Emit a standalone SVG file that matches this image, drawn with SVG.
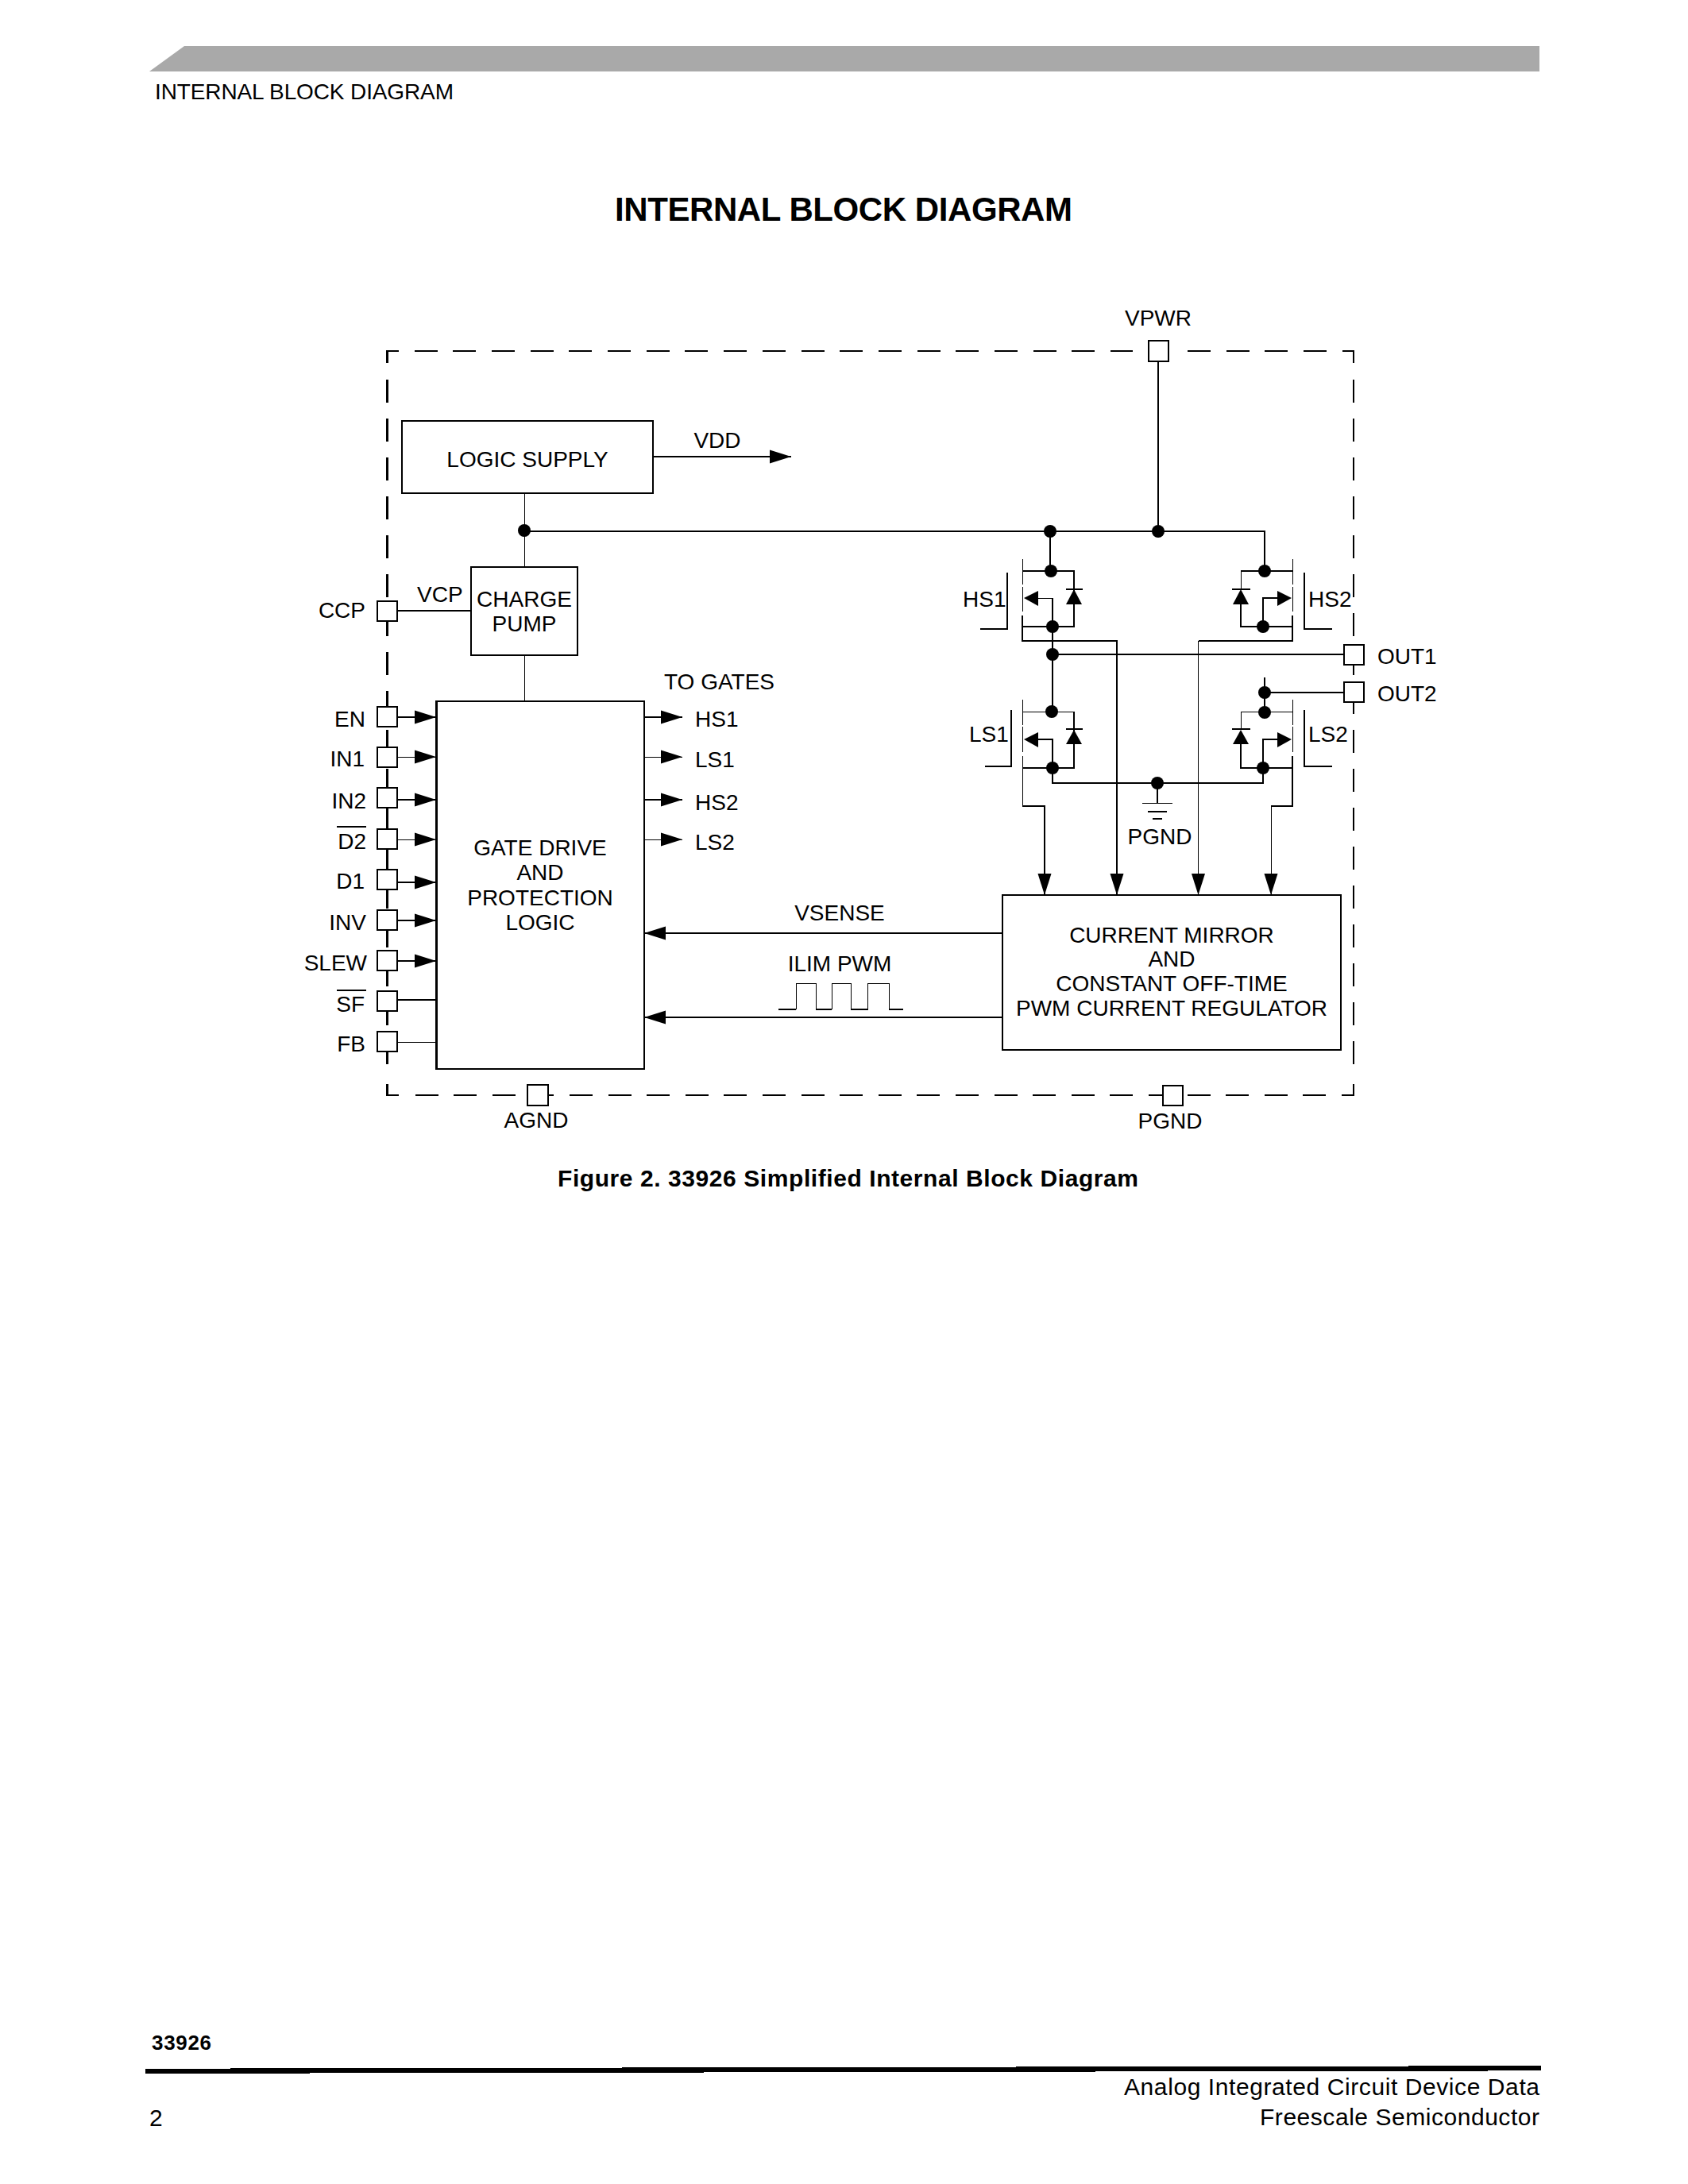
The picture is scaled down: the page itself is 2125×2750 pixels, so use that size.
<svg xmlns="http://www.w3.org/2000/svg" width="2125" height="2750" viewBox="0 0 2125 2750">
<style>
text{font-family:"Liberation Sans",Arial,sans-serif;font-size:28px;fill:#000}
.m{text-anchor:middle}.e{text-anchor:end}
.b{font-weight:bold}
line,path.l,rect{shape-rendering:crispEdges}
.k{stroke:#000;stroke-width:2;fill:none}
.t{stroke:#000;stroke-width:1;fill:none}
.box{fill:#fff;stroke:#000;stroke-width:2}
.d{stroke:#000;stroke-width:2;fill:none;stroke-dasharray:29 19.7}
.dot{fill:#000}
.f{fill:#000;stroke:none}
.a{marker-end:url(#arrow)}
</style>
<defs>
<marker id="arrow" markerUnits="userSpaceOnUse" markerWidth="27" markerHeight="18" viewBox="0 0 27 18" refX="27" refY="9" orient="auto"><path d="M0 0.500L27 9L0 17.500Z" fill="#000"/></marker>
</defs>
<g id="page-header">
<polygon points="232,58 1938,58 1938,90 188,90" fill="#a9a9a9"/>
<text x="195" y="125" textLength="376">INTERNAL BLOCK DIAGRAM</text>
</g>
<text id="title" class="b" x="774" y="278" textLength="576" style="font-size:42px">INTERNAL BLOCK DIAGRAM</text>
<g id="boundary">
<path class="k l" d="M502 441.500H487.500"/>
<path class="l" d="M487.500 441V457" stroke="#000" stroke-width="3"/>
<path class="d l" d="M521.500 441.500H1426"/>
<path class="d l" d="M1495 441.500H1680"/>
<path class="k l" d="M1690 441.500H1704V457"/>
<path class="d l" d="M487.500 478V1344" style="stroke-dasharray:29 20;stroke-width:3"/>
<path class="d l" d="M1704 478V1344" style="stroke-dasharray:29 20"/>
<path class="l" d="M487.500 1365V1380" stroke="#000" stroke-width="3"/>
<path class="k l" d="M487.500 1379H502"/>
<path class="d l" d="M522.500 1379H1670" style="stroke-dasharray:29 19.6"/>
<path class="k l" d="M1689 1379H1704V1365"/>
</g>
<g id="connectors">
<line class="t" x1="660" y1="621" x2="660" y2="714"/>
<line class="k a" x1="822" y1="575" x2="996" y2="575"/>
<path class="k l" d="M660 669H1592V719"/>
<line class="k" x1="1458" y1="455" x2="1458" y2="669"/>
<line class="k" x1="1322" y1="669" x2="1322" y2="719"/>
<line class="k" x1="500" y1="769" x2="593" y2="769"/>
<line class="t" x1="660" y1="825" x2="660" y2="883"/>
<line class="k a" x1="500" y1="903" x2="549" y2="903"/>
<line class="t a" x1="500" y1="953" x2="549" y2="953"/>
<line class="k a" x1="500" y1="1007" x2="549" y2="1007"/>
<line class="t a" x1="500" y1="1057" x2="549" y2="1057"/>
<line class="k a" x1="500" y1="1111" x2="549" y2="1111"/>
<line class="k a" x1="500" y1="1159" x2="549" y2="1159"/>
<line class="k a" x1="500" y1="1210" x2="549" y2="1210"/>
<line class="k" x1="500" y1="1259" x2="549" y2="1259"/>
<line class="t" x1="500" y1="1312" x2="549" y2="1312"/>
<line class="k a" x1="811" y1="903" x2="859" y2="903"/>
<line class="t a" x1="811" y1="953" x2="859" y2="953"/>
<line class="k a" x1="811" y1="1007" x2="859" y2="1007"/>
<line class="t a" x1="811" y1="1057" x2="859" y2="1057"/>
<line class="k a" x1="1261" y1="1175" x2="811" y2="1175"/>
<line class="k a" x1="1261" y1="1281" x2="811" y2="1281"/>
<path class="k l" d="M980 1271H1002M1027 1271H1047M1071 1271H1092.500M1119 1271H1137"/>
<path class="t l" d="M1002 1271V1238H1027V1271M1047 1271V1238H1071V1271M1092.500 1271V1238H1119V1271"/>
<line class="k" x1="1325" y1="789" x2="1325" y2="896"/>
<line class="k" x1="1325" y1="824" x2="1691" y2="824"/>
<path class="k l" d="M1287 775V807H1406V1127" style="marker-end:url(#arrow)"/>
<path class="t l" d="M1627 807H1508.500V1127" style="marker-end:url(#arrow)"/>
<path class="k l" d="M1627 775V807H1509"/>
<line class="k" x1="1592" y1="872" x2="1691" y2="872"/>
<line class="k" x1="1592" y1="853" x2="1592" y2="897"/>
<path class="k l" d="M1325 967V986H1590V967"/>
<path class="t l" d="M1287 952V1015"/>
<path class="k l" d="M1287 1015H1315V1127" style="marker-end:url(#arrow)"/>
<path class="k l" d="M1627 952V1015H1600"/>
<path class="t l" d="M1600 1015V1127" style="marker-end:url(#arrow)"/>
<line class="k" x1="1457" y1="986" x2="1457" y2="1011"/>
<circle class="dot" cx="660" cy="668" r="8"/>
<circle class="dot" cx="1322" cy="669" r="8"/>
<circle class="dot" cx="1458" cy="669" r="8"/>
<circle class="dot" cx="1325" cy="824" r="8"/>
<circle class="dot" cx="1592" cy="872" r="8"/>
<circle class="dot" cx="1457" cy="986" r="8"/>
</g>
<g id="logic-supply"><rect class="box" x="506" y="530" width="316" height="91"/><text class="m" x="664" y="588">LOGIC SUPPLY</text></g>
<text id="label-vdd" class="m" x="903" y="564">VDD</text>
<g id="charge-pump"><rect class="box" x="593" y="714" width="134" height="111"/><text class="m" x="660" y="764">CHARGE</text><text class="m" x="660" y="795">PUMP</text></g>
<text id="label-vcp" x="525" y="758">VCP</text>
<g id="gate-drive"><rect class="box" x="549" y="883" width="262" height="463"/><line x1="549" y1="882" x2="549" y2="1347" stroke="#000" stroke-width="3"/><text class="m" x="680" y="1077">GATE DRIVE</text><text class="m" x="680" y="1108">AND</text><text class="m" x="680" y="1140">PROTECTION</text><text class="m" x="680" y="1171">LOGIC</text></g>
<g id="current-mirror"><rect class="box" x="1261.500" y="1127" width="426" height="195"/><text class="m" x="1475" y="1187">CURRENT MIRROR</text><text class="m" x="1475" y="1217">AND</text><text class="m" x="1475" y="1248">CONSTANT OFF-TIME</text><text class="m" x="1475" y="1279">PWM CURRENT REGULATOR</text></g>
<text id="label-to-gates" x="836" y="868">TO GATES</text>
<text id="label-vsense" class="m" x="1057" y="1159">VSENSE</text>
<text id="label-ilim" class="m" x="1057" y="1223">ILIM PWM</text>
<text id="gate-hs1" x="875" y="915">HS1</text>
<text id="gate-ls1" x="875" y="966">LS1</text>
<text id="gate-hs2" x="875" y="1020">HS2</text>
<text id="gate-ls2" x="875" y="1070">LS2</text>
<g id="pin-ccp"><rect class="box" x="475" y="757" width="25" height="25"/><text class="e" x="460" y="778">CCP</text></g>
<g id="pin-en"><rect class="box" x="475" y="890" width="25" height="25"/><text class="e" x="460" y="915">EN</text></g>
<g id="pin-in1"><rect class="box" x="475" y="941" width="25" height="25"/><text class="e" x="459" y="965">IN1</text></g>
<g id="pin-in2"><rect class="box" x="475" y="992" width="25" height="25"/><text class="e" x="461" y="1018">IN2</text></g>
<g id="pin-d2"><rect class="box" x="475" y="1044" width="25" height="25"/><text class="e" x="461" y="1069">D2</text><line class="k" x1="424" y1="1041" x2="461" y2="1041"/></g>
<g id="pin-d1"><rect class="box" x="475" y="1095" width="25" height="25"/><text class="e" x="459" y="1119">D1</text></g>
<g id="pin-inv"><rect class="box" x="475" y="1146" width="25" height="25"/><text class="e" x="461" y="1171">INV</text></g>
<g id="pin-slew"><rect class="box" x="475" y="1197" width="25" height="25"/><text class="e" x="462" y="1222">SLEW</text></g>
<g id="pin-sf"><rect class="box" x="475" y="1248" width="25" height="25"/><text class="e" x="459" y="1274">SF</text><line class="k" x1="424" y1="1247" x2="461" y2="1247"/></g>
<g id="pin-fb"><rect class="box" x="475" y="1299" width="25" height="25"/><text class="e" x="460" y="1324">FB</text></g>
<g id="pin-vpwr"><rect class="box" x="1446" y="429" width="25" height="26"/><text class="m" x="1458" y="410">VPWR</text></g>
<g id="pin-out1"><rect class="box" x="1692" y="812" width="25" height="25"/><text x="1734" y="836">OUT1</text></g>
<g id="pin-out2"><rect class="box" x="1692" y="859" width="25" height="25"/><text x="1734" y="883">OUT2</text></g>
<g id="pin-agnd"><rect class="box" x="664" y="1366" width="26" height="26"/><text class="m" x="675" y="1420">AGND</text></g>
<g id="pin-pgnd"><rect class="box" x="1464" y="1367" width="25" height="25"/><text class="m" x="1473" y="1421">PGND</text></g>
<g id="ground"><line class="t" x1="1438" y1="1011" x2="1476" y2="1011"/><line class="k" x1="1445" y1="1022" x2="1469" y2="1022"/><line class="k" x1="1451" y1="1031" x2="1463" y2="1031"/><text class="m" x="1460" y="1063">PGND</text></g>
<g id="hs1">
<path class="t l" d="M1287 704V736M1287 739V770M1307 753H1325"/>
<path class="k l" d="M1287 719H1352V789H1287"/>
<path class="k l" d="M1325 753V789"/>
<line class="k" x1="1342" y1="742" x2="1363" y2="742"/>
<polygon class="f" points="1352,742 1362,761 1342,761"/>
<polygon class="f" points="1289,753 1307,744 1307,763"/>
<circle class="dot" cx="1323" cy="719" r="8"/><circle class="dot" cx="1325" cy="789" r="8"/>
<path class="k l" d="M1268 721V792H1234"/>
<text x="1212" y="764">HS1</text>
</g>
<g id="hs2">
<path class="t l" d="M1627 704V736M1627 739V770M1562 719V742"/>
<path class="k l" d="M1562 719H1627M1562 761V789H1627"/>
<path class="k l" d="M1608 753H1590V789"/>
<line class="k" x1="1551" y1="742" x2="1574" y2="742"/>
<polygon class="f" points="1562,742 1572,761 1552,761"/>
<polygon class="f" points="1626,753 1608,744 1608,763"/>
<circle class="dot" cx="1592" cy="719" r="8"/><circle class="dot" cx="1590" cy="789" r="8"/>
<path class="k l" d="M1642 721V792H1677"/>
<text x="1647" y="764">HS2</text>
</g>
<g id="ls1">
<path class="t l" d="M1287 881V913M1287 915V947M1287 896H1352"/>
<path class="k l" d="M1352 896V967H1287"/>
<path class="k l" d="M1307 931H1325V967"/>
<line class="k" x1="1342" y1="918" x2="1363" y2="918"/>
<polygon class="f" points="1352,919 1362,937 1342,937"/>
<polygon class="f" points="1289,931 1307,922 1307,941"/>
<circle class="dot" cx="1324" cy="896" r="8"/><circle class="dot" cx="1325" cy="967" r="8"/>
<path class="k l" d="M1273 894V965H1240"/>
<text x="1220" y="934">LS1</text>
</g>
<g id="ls2">
<path class="t l" d="M1627 881V913M1627 915V947M1562 896H1627M1562 896V918"/>
<path class="k l" d="M1562 937V967H1627"/>
<path class="k l" d="M1608 931H1590V967"/>
<line class="k" x1="1551" y1="918" x2="1574" y2="918"/>
<polygon class="f" points="1562,919 1572,937 1552,937"/>
<polygon class="f" points="1626,931 1608,922 1608,941"/>
<circle class="dot" cx="1592" cy="897" r="8"/><circle class="dot" cx="1590" cy="967" r="8"/>
<path class="k l" d="M1642 894V965H1677"/>
<text x="1647" y="934">LS2</text>
</g>
<text id="caption" class="b" x="702" y="1494" textLength="731" style="font-size:30px">Figure 2. 33926 Simplified Internal Block Diagram</text>
<g id="page-footer">
<text class="b" x="191" y="2581" textLength="75" style="font-size:26px">33926</text>
<polygon points="183,2605 290,2605 290,2604 783,2604 783,2603 1279,2603 1279,2602 1773,2602 1773,2601 1940,2601 1940,2607 1873,2607 1873,2608 1379,2608 1379,2609 886,2609 886,2610 390,2610 390,2611 183,2611" fill="#000"/>
<text x="1415" y="2638" textLength="523" style="font-size:30px">Analog Integrated Circuit Device Data</text>
<text x="1586" y="2676" textLength="352" style="font-size:30px">Freescale Semiconductor</text>
<text x="188" y="2677" style="font-size:30px">2</text>
</g>
</svg>
